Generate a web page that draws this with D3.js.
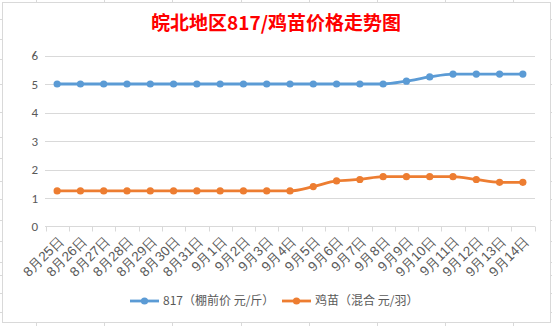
<!DOCTYPE html>
<html><head><meta charset="utf-8">
<script src="https://cdn.jsdelivr.net/npm/d3@7/dist/d3.min.js"></script>
<style>
html,body{margin:0;padding:0;background:#fff;}
svg{display:block;font-family:"Noto Sans CJK SC","Microsoft YaHei",sans-serif;}
</style></head>
<body><svg id="c" width="552" height="326"></svg>
<script>
const title = "皖北地区817/鸡苗价格走势图";
const categories = ["8月25日","8月26日","8月27日","8月28日","8月29日","8月30日","8月31日","9月1日","9月2日","9月3日","9月4日","9月5日","9月6日","9月7日","9月8日","9月9日","9月10日","9月11日","9月12日","9月13日","9月14日"];
const series817 = [5,5,5,5,5,5,5,5,5,5,5,5,5,5,5,5.1,5.25,5.35,5.35,5.35,5.35];
const seriesChick = [1.25,1.25,1.25,1.25,1.25,1.25,1.25,1.25,1.25,1.25,1.25,1.4,1.6,1.65,1.75,1.75,1.75,1.75,1.65,1.55,1.55];
const seriesNames = ["817（棚前价 元/斤）","鸡苗（混合 元/羽）"];
const colors = ["#5B9BD5","#ED7D31"];
const yTicks = [0,1,2,3,4,5,6];

const svg = d3.select("#c");
// spreadsheet background lines
const bg = svg.append("g").attr("stroke","#d9d9d9").attr("stroke-width",1);
d3.range(36,552,68.2).forEach(x=>bg.append("line").attr("x1",Math.round(x)+0.5).attr("x2",Math.round(x)+0.5).attr("y1",0).attr("y2",326));
[19,39,59,84,112,137,158,181,199,220,241,262,275,293,312].forEach(y=>bg.append("line").attr("x1",0).attr("x2",552).attr("y1",y+0.5).attr("y2",y+0.5));
// chart box
svg.append("rect").attr("x",2.5).attr("y",2.5).attr("width",548).attr("height",320)
  .attr("fill","#fff").attr("stroke","#d9d9d9").attr("stroke-width",1);

svg.append("text").attr("x",276).attr("y",30).attr("text-anchor","middle")
  .attr("fill","#ff0000").attr("font-size",19).attr("font-weight","bold").text(title);

const x = d3.scaleBand().domain(categories).range([45.5,534.5]);
const y = d3.scaleLinear().domain([0,6]).range([226.5,55.5]);

// gridlines
svg.append("g").selectAll("line").data(yTicks.filter(d=>d>0)).join("line")
  .attr("x1",45).attr("x2",535).attr("y1",d=>Math.round(y(d))+0.5).attr("y2",d=>Math.round(y(d))+0.5)
  .attr("stroke","#d9d9d9").attr("stroke-width",1);

// y labels
const yAxis = d3.axisLeft(y).tickValues(yTicks).tickFormat(d3.format("d")).tickSize(0).tickPadding(0);
const yg = svg.append("g").attr("transform","translate(38,0)").call(yAxis);
yg.select(".domain").remove();
yg.selectAll("text").attr("fill","#595959").attr("font-size",13).attr("text-anchor","end")
  .attr("font-family","Calibri,'Liberation Sans',Arial,sans-serif");

// x axis
const xAxis = d3.axisBottom(x).tickSize(0).tickPadding(0);
const xg = svg.append("g").attr("transform","translate(0,226.5)").call(xAxis);
xg.select(".domain").attr("stroke","#d9d9d9").attr("d","M45,0H535");
// category boundary ticks
xg.append("g").selectAll("line").data(d3.range(categories.length+1)).join("line")
  .attr("x1",i=>Math.round(45.5+i*x.step())+0.5).attr("x2",i=>Math.round(45.5+i*x.step())+0.5)
  .attr("y1",0).attr("y2",5).attr("stroke","#d9d9d9");
xg.selectAll(".tick text").attr("fill","#595959").attr("font-size",13.5)
  .attr("text-anchor","end").attr("dy","0.35em")
  .attr("transform","translate(4,12) rotate(-45)");

// lines
const line = d3.line().x((d,i)=>x(categories[i])+x.bandwidth()/2).y(d=>y(d)).curve(d3.curveMonotoneX);
[series817,seriesChick].forEach((s,k)=>{
  svg.append("path").datum(s).attr("d",line).attr("fill","none")
    .attr("stroke",colors[k]).attr("stroke-width",2.8).attr("stroke-linecap","round");
  svg.append("g").selectAll("circle").data(s).join("circle")
    .attr("cx",(d,i)=>x(categories[i])+x.bandwidth()/2).attr("cy",d=>y(d)).attr("r",3.6)
    .attr("fill",colors[k]);
});

// legend
const legX = [130,282];
seriesNames.forEach((n,k)=>{
  const g = svg.append("g").attr("transform",`translate(${legX[k]},301)`);
  g.append("line").attr("x1",0).attr("x2",29).attr("y1",0).attr("y2",0).attr("stroke",colors[k]).attr("stroke-width",2.8);
  g.append("circle").attr("cx",14.5).attr("cy",0).attr("r",3.6).attr("fill",colors[k]);
  g.append("text").attr("x",33).attr("y",0).attr("dy","0.35em").attr("fill","#595959").attr("font-size",12).text(n);
});
</script></body></html>
